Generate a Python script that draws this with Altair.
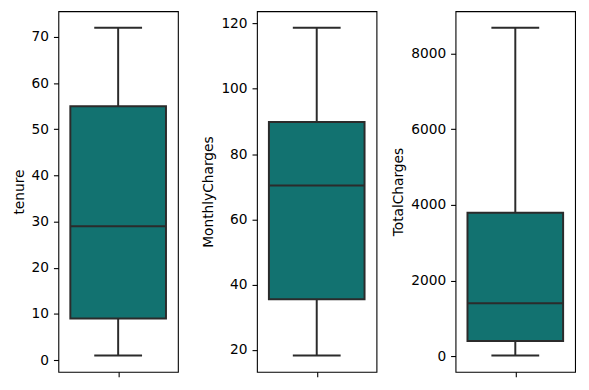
import altair as alt
import pandas as pd

variables = ["tenure", "MonthlyCharges", "TotalCharges"]
mins = [1, 18.25, 18.8]
q1s = [9, 35.5, 401.45]
medians = [29, 70.35, 1397.475]
q3s = [55, 89.85, 3794.74]
maxs = [72, 118.75, 8684.8]

y_domains = [[-2.55, 75.55], [13.225, 123.775], [-414.5, 9118.1]]
y_ticks = [
    [0, 10, 20, 30, 40, 50, 60, 70],
    [20, 40, 60, 80, 100, 120],
    [0, 2000, 4000, 6000, 8000],
]

df = pd.DataFrame({
    "variable": variables,
    "lo": mins,
    "q1": q1s,
    "med": medians,
    "q3": q3s,
    "hi": maxs,
})

FILL = "#127270"
LINE = "#2b2b2b"
LW = 2
FS = 13.9


def panel(i):
    name = variables[i]
    base = alt.Chart(df).transform_filter(alt.datum.variable == name)
    xs = alt.Scale(domain=[-0.5, 0.5], nice=False, zero=False)
    xaxis = alt.Axis(values=[0], labels=False, title=None, domain=False,
                     grid=False, tickSize=5, tickColor="black", tickWidth=1.1)
    ys = alt.Scale(domain=y_domains[i], nice=False, zero=False)
    yaxis = alt.Axis(values=y_ticks[i], title=name, grid=False, domain=False,
                     tickSize=5, tickColor="black", tickWidth=1.1,
                     labelPadding=5, titlePadding=5, format="d")

    whisk_lo = base.mark_rule(color=LINE, strokeWidth=LW).encode(
        x=alt.X(datum=0, type="quantitative", scale=xs, axis=xaxis),
        y=alt.Y("lo:Q", scale=ys, axis=yaxis),
        y2="q1:Q",
    )
    whisk_hi = base.mark_rule(color=LINE, strokeWidth=LW).encode(
        x=alt.X(datum=0, type="quantitative"),
        y=alt.Y("q3:Q"),
        y2="hi:Q",
    )
    box = base.mark_bar(fill=FILL, stroke=LINE, strokeWidth=LW).encode(
        x=alt.X(datum=-0.4, type="quantitative"),
        x2=alt.X2(datum=0.4),
        y=alt.Y("q1:Q"),
        y2="q3:Q",
    )
    med = base.mark_rule(color=LINE, strokeWidth=LW).encode(
        x=alt.X(datum=-0.4, type="quantitative"),
        x2=alt.X2(datum=0.4),
        y=alt.Y("med:Q"),
    )
    cap_lo = base.mark_rule(color=LINE, strokeWidth=LW).encode(
        x=alt.X(datum=-0.2, type="quantitative"),
        x2=alt.X2(datum=0.2),
        y=alt.Y("lo:Q"),
    )
    cap_hi = base.mark_rule(color=LINE, strokeWidth=LW).encode(
        x=alt.X(datum=-0.2, type="quantitative"),
        x2=alt.X2(datum=0.2),
        y=alt.Y("hi:Q"),
    )
    return alt.layer(whisk_lo, whisk_hi, box, med, cap_lo, cap_hi).properties(
        width=121, height=365
    )


chart = alt.hconcat(
    panel(0), panel(1), panel(2), spacing=80, bounds="flush"
).properties(
    padding={"left": 3, "top": 0, "right": 5, "bottom": 5}
).configure_view(
    stroke="black", strokeWidth=1.1
).configure_axis(
    labelFont="DejaVu Sans", titleFont="DejaVu Sans",
    labelFontSize=FS, titleFontSize=FS, labelColor="black",
    titleColor="black", titleFontWeight="normal",
)

chart.save("out.html", embed_options={"renderer": "svg", "actions": False})
